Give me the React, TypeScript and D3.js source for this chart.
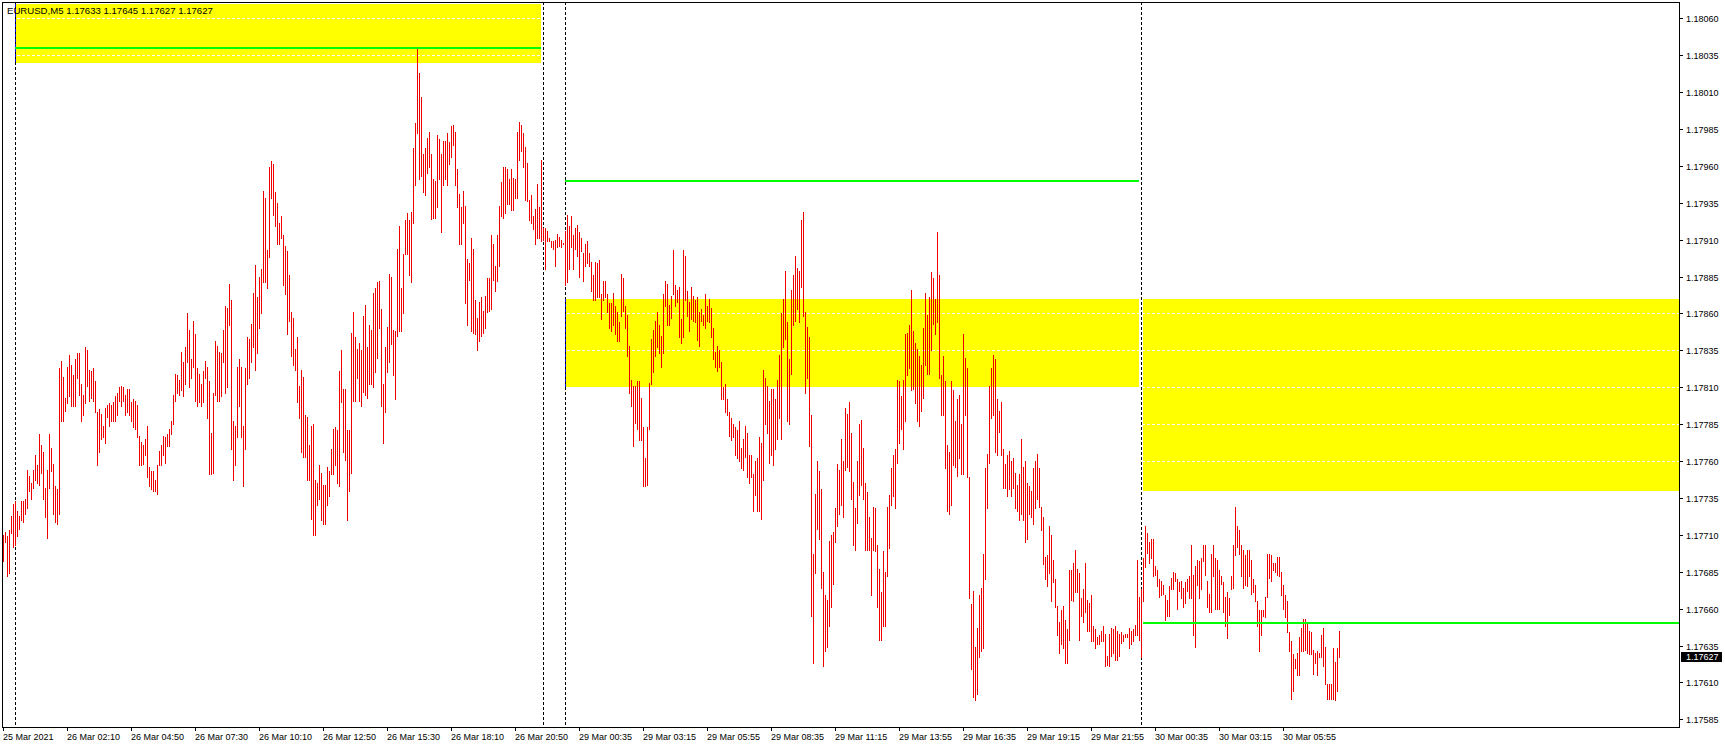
import React, { useEffect } from 'react';
import * as d3 from 'd3';

// ---------- text ----------
const symbolInfo = 'EURUSD,M5  1.17633 1.17645 1.17627 1.17627';
const lastPrice = 1.17627;

// ---------- price axis ticks ----------
const priceTicks = [
  1.18060, 1.18035, 1.18010, 1.17985, 1.17960, 1.17935, 1.17910, 1.17885, 1.17860, 1.17835,
  1.17810, 1.17785, 1.17760, 1.17735, 1.17710, 1.17685, 1.17660, 1.17635, 1.17610, 1.17585,
];

// ---------- time axis ticks (bar index -> label) ----------
const timeTickBars = [0, 32, 64, 96, 128, 160, 192, 224, 256, 288, 320, 352, 384, 416, 448, 480, 512, 544, 576, 608, 640];
const timeTickLabels = [
  '25 Mar 2021', '26 Mar 02:10', '26 Mar 04:50', '26 Mar 07:30', '26 Mar 10:10', '26 Mar 12:50',
  '26 Mar 15:30', '26 Mar 18:10', '26 Mar 20:50', '29 Mar 00:35', '29 Mar 03:15', '29 Mar 05:55',
  '29 Mar 08:35', '29 Mar 11:15', '29 Mar 13:55', '29 Mar 16:35', '29 Mar 19:15', '29 Mar 21:55',
  '30 Mar 00:35', '30 Mar 03:15', '30 Mar 05:55',
];

// period separators (bar index)
const separatorBars = [6, 270, 281, 569];

// rectangles (bar index range, price range)
const zoneFrom = [6, 281, 570];
const zoneTo = [269, 568, 838];
const zoneHigh = [1.18070, 1.17870, 1.17870];
const zoneLow = [1.18030, 1.17810, 1.17740];

// horizontal levels
const levelFrom = [6, 281, 570];
const levelTo = [269, 568, 838];
const levelPrice = [1.18040, 1.17950, 1.17650];

// ---------- M5 bars: highs / lows ----------
// 25 Mar 23:30 .. 26 Mar 22:50
const highs2526 = [
  1.17710,1.17712,1.17709,1.17713,1.17723,1.17731,1.17733,1.17726,1.17723,1.17733,
  1.17733,1.17734,1.17754,1.17750,1.17745,1.17754,1.17764,1.17757,1.17778,1.17771,
  1.17766,1.17742,1.17754,1.17778,1.17769,1.17758,1.17743,1.17741,1.17823,1.17828,
  1.17817,1.17803,1.17824,1.17832,1.17825,1.17818,1.17829,1.17833,1.17833,1.17812,
  1.17805,1.17837,1.17835,1.17822,1.17821,1.17823,1.17814,1.17793,1.17795,1.17792,
  1.17784,1.17796,1.17798,1.17799,1.17798,1.17800,1.17804,1.17806,1.17810,1.17811,
  1.17810,1.17805,1.17809,1.17809,1.17800,1.17802,1.17801,1.17798,1.17777,1.17773,
  1.17771,1.17775,1.17784,1.17756,1.17753,1.17753,1.17747,1.17757,1.17767,1.17771,
  1.17777,1.17776,1.17778,1.17782,1.17787,1.17805,1.17819,1.17818,1.17815,1.17834,
  1.17827,1.17837,1.17860,1.17849,1.17829,1.17855,1.17846,1.17823,1.17819,1.17812,
  1.17821,1.17828,1.17824,1.17814,1.17779,1.17806,1.17841,1.17838,1.17834,1.17833,
  1.17849,1.17865,1.17864,1.17880,1.17869,1.17787,1.17784,1.17824,1.17829,1.17824,
  1.17784,1.17823,1.17844,1.17843,1.17853,1.17874,1.17893,1.17871,1.17885,1.17890,
  1.17943,1.17938,1.17903,1.17959,1.17963,1.17961,1.17942,1.17935,1.17921,1.17926,
  1.17913,1.17906,1.17902,1.17886,1.17861,1.17857,1.17836,1.17844,1.17811,1.17822,
  1.17817,1.17791,1.17790,1.17771,1.17784,1.17785,1.17747,1.17745,1.17757,1.17752,
  1.17744,1.17744,1.17756,1.17753,1.17768,1.17782,1.17783,1.17781,1.17821,1.17835,
  1.17809,1.17809,1.17781,1.17781,1.17847,1.17861,1.17844,1.17836,1.17840,1.17835,
  1.17858,1.17866,1.17837,1.17852,1.17849,1.17874,1.17877,1.17881,1.17882,1.17863,
  1.17812,1.17837,1.17851,1.17887,1.17885,1.17849,1.17848,1.17904,1.17919,1.17877,
  1.17900,1.17923,1.17928,1.17923,1.17929,1.17972,1.17989,1.18040,1.18023,1.18007,
  1.17968,1.17972,1.17979,1.17983,1.17968,1.17951,1.17950,1.17981,1.17978,1.17968,
  1.17977,1.17977,1.17982,1.17976,1.17987,1.17988,1.17983,1.17958,1.17941,1.17932,
  1.17943,1.17933,1.17897,1.17894,1.17911,1.17904,1.17869,1.17857,1.17868,1.17871,
  1.17862,1.17872,1.17884,1.17884,1.17913,1.17907,1.17892,1.17913,1.17933,1.17949,
  1.17959,1.17959,1.17958,1.17951,1.17958,1.17952,1.17951,1.17983,1.17990,1.17988,
  1.17982,1.17973,1.17962,1.17937,1.17940,1.17926,1.17931,1.17948,1.17932,1.17964,
  1.17918,1.17918,1.17916,1.17911,1.17909,1.17909,1.17910,1.17914,1.17912,1.17910,1.17908,
];
const lows2526 = [
  1.17692,1.17705,1.17682,1.17684,1.17711,1.17702,1.17703,1.17709,1.17714,1.17720,
  1.17719,1.17724,1.17728,1.17740,1.17734,1.17742,1.17747,1.17745,1.17744,1.17752,
  1.17734,1.17722,1.17708,1.17742,1.17753,1.17724,1.17719,1.17717,1.17724,1.17787,
  1.17787,1.17794,1.17799,1.17804,1.17797,1.17797,1.17797,1.17816,1.17805,1.17787,
  1.17791,1.17799,1.17811,1.17801,1.17803,1.17801,1.17793,1.17757,1.17766,1.17775,
  1.17776,1.17772,1.17790,1.17784,1.17787,1.17787,1.17787,1.17791,1.17801,1.17797,
  1.17801,1.17791,1.17793,1.17791,1.17787,1.17783,1.17782,1.17776,1.17757,1.17757,
  1.17758,1.17764,1.17749,1.17743,1.17741,1.17740,1.17740,1.17738,1.17757,1.17757,
  1.17764,1.17759,1.17770,1.17770,1.17778,1.17785,1.17801,1.17806,1.17805,1.17808,
  1.17804,1.17812,1.17827,1.17810,1.17816,1.17824,1.17801,1.17797,1.17800,1.17797,
  1.17800,1.17816,1.17789,1.17751,1.17751,1.17752,1.17805,1.17801,1.17801,1.17804,
  1.17827,1.17806,1.17810,1.17852,1.17768,1.17747,1.17757,1.17776,1.17797,1.17776,
  1.17743,1.17768,1.17812,1.17816,1.17827,1.17837,1.17822,1.17833,1.17850,1.17860,
  1.17881,1.17881,1.17877,1.17898,1.17938,1.17927,1.17919,1.17907,1.17907,1.17911,
  1.17879,1.17873,1.17846,1.17855,1.17831,1.17825,1.17822,1.17800,1.17789,1.17766,
  1.17763,1.17763,1.17747,1.17747,1.17721,1.17710,1.17710,1.17730,1.17734,1.17720,
  1.17717,1.17717,1.17730,1.17736,1.17751,1.17751,1.17757,1.17745,1.17743,1.17800,
  1.17766,1.17761,1.17720,1.17740,1.17752,1.17801,1.17801,1.17816,1.17801,1.17797,
  1.17807,1.17805,1.17803,1.17812,1.17812,1.17810,1.17820,1.17830,1.17850,1.17797,
  1.17772,1.17793,1.17820,1.17827,1.17839,1.17818,1.17802,1.17845,1.17848,1.17848,
  1.17860,1.17900,1.17900,1.17886,1.17881,1.17921,1.17947,1.17982,1.17951,1.17953,
  1.17942,1.17940,1.17955,1.17959,1.17924,1.17925,1.17925,1.17932,1.17951,1.17915,
  1.17947,1.17951,1.17947,1.17961,1.17966,1.17974,1.17947,1.17932,1.17907,1.17907,
  1.17921,1.17867,1.17852,1.17883,1.17848,1.17847,1.17846,1.17835,1.17841,1.17845,
  1.17847,1.17850,1.17861,1.17862,1.17863,1.17883,1.17875,1.17882,1.17892,1.17926,
  1.17925,1.17928,1.17934,1.17934,1.17930,1.17930,1.17938,1.17938,1.17964,1.17970,
  1.17959,1.17937,1.17936,1.17923,1.17921,1.17917,1.17907,1.17911,1.17911,1.17909,
  1.17910,1.17890,1.17909,1.17909,1.17905,1.17904,1.17892,1.17905,1.17906,1.17905,1.17907,
];

// 29 Mar 00:00 .. 23:55
const highs29 = [
  1.17916,1.17927,1.17919,1.17926,1.17913,1.17918,1.17920,1.17915,1.17911,
  1.17901,1.17907,1.17909,1.17901,1.17895,1.17886,1.17895,1.17894,1.17896,1.17873,
  1.17882,1.17882,1.17873,1.17867,1.17867,1.17874,1.17865,1.17861,1.17854,1.17887,
  1.17884,1.17865,1.17859,1.17838,1.17815,1.17811,1.17811,1.17814,1.17814,1.17803,
  1.17783,1.17762,1.17783,1.17813,1.17843,1.17849,1.17855,1.17861,1.17852,1.17845,
  1.17873,1.17882,1.17880,1.17866,1.17872,1.17903,1.17879,1.17876,1.17878,1.17856,
  1.17903,1.17899,1.17875,1.17868,1.17878,1.17872,1.17869,1.17871,1.17861,1.17863,
  1.17859,1.17873,1.17865,1.17870,1.17864,1.17850,1.17834,1.17838,1.17835,1.17827,
  1.17810,1.17812,1.17802,1.17793,1.17789,1.17785,1.17783,1.17781,1.17787,1.17769,
  1.17775,1.17784,1.17779,1.17764,1.17764,1.17751,1.17760,1.17762,1.17776,1.17772,
  1.17822,1.17816,1.17811,1.17801,1.17809,1.17809,1.17802,1.17815,1.17832,1.17860,
  1.17870,1.17889,1.17854,1.17829,1.17876,1.17886,1.17899,1.17891,1.17889,1.17923,
  1.17929,1.17861,1.17851,1.17844,1.17791,1.17697,1.17738,1.17760,1.17753,1.17741,
  1.17685,1.17669,1.17666,1.17706,1.17710,1.17712,1.17728,1.17758,1.17754,1.17775,
  1.17760,1.17796,1.17792,1.17800,1.17779,1.17746,1.17728,1.17760,1.17785,1.17788,
  1.17769,1.17745,1.17739,1.17722,1.17708,1.17729,1.17728,1.17703,1.17687,1.17671,
  1.17699,1.17685,1.17729,1.17737,1.17755,1.17764,1.17768,1.17815,1.17814,1.17804,
  1.17815,1.17846,1.17847,1.17852,1.17876,1.17848,1.17840,1.17836,1.17831,1.17825,
  1.17850,1.17874,1.17859,1.17871,1.17888,1.17884,1.17870,1.17915,1.17886,1.17818,
  1.17831,1.17814,1.17771,1.17766,1.17814,1.17808,1.17787,1.17802,1.17805,1.17785,
  1.17846,1.17830,1.17823,1.17749,1.17663,1.17672,1.17634,1.17647,1.17669,1.17674,
  1.17697,1.17755,1.17765,1.17811,1.17823,1.17832,1.17829,1.17802,1.17794,1.17800,
  1.17768,1.17758,1.17764,1.17767,1.17760,1.17762,1.17752,1.17744,1.17751,1.17775,
  1.17756,1.17760,1.17745,1.17743,1.17740,1.17755,1.17760,1.17765,1.17755,1.17729,
  1.17722,1.17695,1.17696,1.17716,1.17710,1.17693,1.17680,1.17662,1.17651,1.17659,
  1.17662,1.17652,1.17646,1.17686,1.17686,1.17691,1.17700,1.17687,1.17684,1.17667,
  1.17673,1.17691,1.17666,1.17664,1.17669,1.17648,1.17646,1.17641,1.17642,1.17645,
  1.17648,1.17643,1.17628,1.17643,1.17647,1.17646,1.17648,1.17645,1.17643,1.17644,
  1.17642,1.17643,1.17643,1.17647,1.17645,1.17646,1.17649,1.17693,1.17668,
];
const lows29 = [
  1.17879,1.17881,1.17890,1.17905,1.17890,1.17904,1.17899,1.17885,1.17902,
  1.17882,1.17892,1.17894,1.17892,1.17875,1.17869,1.17869,1.17871,1.17871,1.17856,
  1.17869,1.17871,1.17861,1.17850,1.17848,1.17852,1.17846,1.17841,1.17841,1.17858,
  1.17862,1.17850,1.17831,1.17806,1.17797,1.17770,1.17786,1.17782,1.17774,1.17774,
  1.17743,1.17743,1.17744,1.17782,1.17812,1.17820,1.17831,1.17837,1.17833,1.17824,
  1.17833,1.17865,1.17852,1.17852,1.17857,1.17873,1.17865,1.17868,1.17844,1.17840,
  1.17844,1.17869,1.17858,1.17848,1.17856,1.17855,1.17854,1.17842,1.17838,1.17855,
  1.17852,1.17850,1.17855,1.17854,1.17844,1.17829,1.17824,1.17821,1.17824,1.17802,
  1.17802,1.17793,1.17791,1.17777,1.17774,1.17776,1.17764,1.17762,1.17760,1.17755,
  1.17754,1.17763,1.17749,1.17745,1.17749,1.17726,1.17737,1.17726,1.17726,1.17721,
  1.17747,1.17785,1.17779,1.17759,1.17764,1.17757,1.17768,1.17775,1.17789,1.17775,
  1.17837,1.17843,1.17787,1.17785,1.17819,1.17852,1.17855,1.17863,1.17854,1.17878,
  1.17858,1.17806,1.17816,1.17770,1.17655,1.17623,1.17684,1.17714,1.17707,1.17674,
  1.17621,1.17631,1.17634,1.17648,1.17661,1.17677,1.17705,1.17716,1.17724,1.17730,
  1.17722,1.17754,1.17756,1.17753,1.17734,1.17703,1.17700,1.17718,1.17737,1.17744,
  1.17734,1.17700,1.17700,1.17700,1.17669,1.17700,1.17699,1.17661,1.17639,1.17639,
  1.17648,1.17648,1.17682,1.17701,1.17730,1.17736,1.17728,1.17759,1.17772,1.17782,
  1.17768,1.17787,1.17818,1.17823,1.17808,1.17809,1.17799,1.17787,1.17784,1.17794,
  1.17803,1.17825,1.17819,1.17819,1.17835,1.17853,1.17846,1.17854,1.17816,1.17791,
  1.17791,1.17755,1.17726,1.17724,1.17730,1.17757,1.17756,1.17750,1.17762,1.17751,
  1.17751,1.17791,1.17749,1.17667,1.17619,1.17600,1.17598,1.17602,1.17627,1.17631,
  1.17633,1.17680,1.17728,1.17759,1.17789,1.17791,1.17766,1.17764,1.17780,1.17764,
  1.17742,1.17742,1.17736,1.17741,1.17736,1.17742,1.17728,1.17726,1.17720,1.17724,
  1.17720,1.17705,1.17707,1.17724,1.17722,1.17717,1.17728,1.17734,1.17729,1.17713,
  1.17690,1.17680,1.17675,1.17684,1.17665,1.17678,1.17661,1.17642,1.17630,1.17636,
  1.17633,1.17623,1.17623,1.17639,1.17666,1.17665,1.17671,1.17671,1.17639,1.17655,
  1.17651,1.17658,1.17645,1.17645,1.17638,1.17638,1.17633,1.17636,1.17636,1.17638,
  1.17638,1.17621,1.17622,1.17621,1.17628,1.17630,1.17625,1.17625,1.17628,1.17637,
  1.17638,1.17641,1.17641,1.17633,1.17636,1.17638,1.17642,1.17642,1.17639,
];

// 30 Mar 00:00 .. 08:15
const highs30 = [
  1.17673,1.17694,1.17716,1.17711,1.17705,1.17707,1.17707,1.17689,1.17686,1.17680,1.17679,
  1.17676,1.17669,1.17666,1.17675,1.17681,1.17685,1.17684,1.17680,1.17678,1.17679,
  1.17674,1.17678,1.17680,1.17682,1.17703,1.17683,1.17689,1.17693,1.17692,1.17694,
  1.17703,1.17703,1.17679,1.17670,1.17697,1.17703,1.17694,1.17693,1.17686,1.17682,
  1.17678,1.17668,1.17671,1.17667,1.17682,1.17703,1.17729,1.17716,1.17713,1.17703,
  1.17700,1.17696,1.17700,1.17700,1.17693,1.17680,1.17676,1.17665,1.17659,1.17659,
  1.17659,1.17668,1.17697,1.17697,1.17696,1.17691,1.17691,1.17695,1.17695,1.17685,
  1.17676,1.17669,1.17665,1.17644,1.17638,1.17629,1.17626,1.17630,1.17641,1.17647,
  1.17653,1.17653,1.17650,1.17645,1.17644,1.17632,1.17630,1.17631,1.17630,1.17642,
  1.17647,1.17634,1.17609,1.17609,1.17609,1.17633,1.17624,1.17633,1.17645,
];
const lows30 = [
  1.17627,1.17665,1.17688,1.17698,1.17691,1.17694,1.17682,1.17683,1.17675,1.17668,1.17669,
  1.17670,1.17652,1.17655,1.17655,1.17673,1.17673,1.17679,1.17660,1.17672,1.17667,
  1.17661,1.17664,1.17672,1.17667,1.17667,1.17642,1.17634,1.17676,1.17667,1.17673,
  1.17692,1.17683,1.17661,1.17658,1.17658,1.17682,1.17660,1.17660,1.17660,1.17677,
  1.17658,1.17648,1.17640,1.17656,1.17673,1.17674,1.17696,1.17702,1.17697,1.17682,
  1.17674,1.17676,1.17675,1.17682,1.17670,1.17671,1.17665,1.17648,1.17631,1.17642,
  1.17655,1.17654,1.17668,1.17681,1.17679,1.17686,1.17685,1.17683,1.17682,1.17669,
  1.17660,1.17654,1.17644,1.17631,1.17599,1.17604,1.17620,1.17615,1.17615,1.17631,
  1.17631,1.17632,1.17630,1.17629,1.17629,1.17616,1.17623,1.17615,1.17627,1.17627,
  1.17621,1.17609,1.17599,1.17599,1.17599,1.17599,1.17598,1.17604,1.17627,
];

// ---------- layout ----------
const W = 1725;
const H = 748;
const PL = 2, PT = 2, PR = 1679, PB = 727;
const FONT = '"Liberation Sans", Arial, sans-serif';
const BAR_COLOR = '#ee0000';

export default function App() {
  useEffect(() => {
    document.body.style.margin = '0';
    document.body.style.overflow = 'hidden';
  }, []);

  const highs = [...highs2526, ...highs29, ...highs30];
  const lows = [...lows2526, ...lows29, ...lows30];
  const n = Math.min(highs.length, lows.length);
  const bars = d3.range(n).map((i) => ({ i, high: highs[i], low: lows[i] }));

  const x = d3.scaleLinear().domain([0, 668]).range([3, 1339]);
  const y = d3.scaleLinear().domain([1.17585, 1.18060]).range([719.3, 18.3]);

  const sepX = separatorBars.map((b) => Math.round(x(b)) + 0.5);

  return (
    <svg
      width={W}
      height={H}
      viewBox={`0 0 ${W} ${H}`}
      style={{ position: 'absolute', left: 0, top: 0, background: '#fff', display: 'block' }}
      fontFamily={FONT}
    >
      <rect x={0} y={0} width={W} height={H} fill="#ffffff" />

      {/* yellow rectangles */}
      {zoneFrom.map((f, k) => {
        const x0 = Math.round(x(f));
        const x1 = Math.min(PR, Math.round(x(zoneTo[k])));
        const y0 = Math.round(y(zoneHigh[k]));
        const y1 = Math.round(y(zoneLow[k]));
        return <rect key={'z' + k} x={x0} y={y0} width={x1 - x0} height={y1 - y0} fill="#ffff00" />;
      })}

      {/* grid */}
      {priceTicks.map((t, k) => (
        <line
          key={'g' + k}
          x1={PL}
          x2={PR}
          y1={Math.round(y(t)) + 0.5}
          y2={Math.round(y(t)) + 0.5}
          stroke="#ffffff"
          strokeDasharray="3,2"
          strokeWidth={1}
        />
      ))}

      {/* period separators */}
      {sepX.map((sx, k) => (
        <line key={'s' + k} x1={sx} x2={sx} y1={PT} y2={PB} stroke="#000" strokeDasharray="3,2" strokeWidth={1} />
      ))}
      {sepX.map((sx, k) =>
        zoneFrom.map((f, z) => {
          const x0 = Math.round(x(f));
          const x1 = Math.min(PR, Math.round(x(zoneTo[z])));
          if (sx < x0 || sx > x1) return null;
          return (
            <line
              key={'sb' + k + '_' + z}
              x1={sx}
              x2={sx}
              y1={Math.round(y(zoneHigh[z]))}
              y2={Math.round(y(zoneLow[z]))}
              stroke="#0000ff"
              strokeDasharray="3,2"
              strokeWidth={1}
            />
          );
        })
      )}

      {/* bars */}
      <g shapeRendering="crispEdges">
        {bars.map((b) => {
          const yt = y(b.high);
          const yb = y(b.low);
          return (
            <rect
              key={'b' + b.i}
              x={Math.round(x(b.i))}
              y={Math.round(yt)}
              width={1}
              height={Math.max(1, Math.round(yb) - Math.round(yt) + 1)}
              fill={BAR_COLOR}
            />
          );
        })}
      </g>

      {/* horizontal levels */}
      {levelFrom.map((f, k) => {
        const yy = Math.round(y(levelPrice[k]));
        return (
          <rect
            key={'l' + k}
            x={Math.round(x(f))}
            y={yy - 1}
            width={Math.min(PR, Math.round(x(levelTo[k]))) - Math.round(x(f))}
            height={2}
            fill="#00ff00"
          />
        );
      })}

      {/* frame */}
      <rect x={PL + 0.5} y={PT + 0.5} width={PR - PL} height={PB - PT} fill="none" stroke="#000" strokeWidth={1} />

      {/* price axis */}
      {priceTicks.map((t, k) => {
        const yy = Math.round(y(t)) + 0.5;
        return (
          <g key={'pt' + k}>
            <line x1={PR + 1} x2={PR + 4} y1={yy} y2={yy} stroke="#000" />
            <text x={1686} y={yy + 3.3} fontSize={9} fill="#000">
              {t.toFixed(5)}
            </text>
          </g>
        );
      })}

      {/* last price label */}
      <rect x={1681} y={Math.round(y(lastPrice)) - 5} width={41} height={10} fill="#000" />
      <text x={1686} y={Math.round(y(lastPrice)) + 3.3} fontSize={9} fill="#fff">
        {lastPrice.toFixed(5)}
      </text>

      {/* time axis */}
      {timeTickBars.map((b, k) => {
        const xx = Math.round(x(b)) + 0.5;
        return (
          <g key={'tt' + k}>
            <line x1={xx} x2={xx} y1={PB} y2={PB + 4} stroke="#000" />
            <text x={xx - 0.5} y={739.5} fontSize={9} fill="#000">
              {timeTickLabels[k]}
            </text>
          </g>
        );
      })}

      {/* symbol header */}
      <text x={7} y={14.3} fontSize={9.6} fill="#000">
        {symbolInfo}
      </text>
    </svg>
  );
}
